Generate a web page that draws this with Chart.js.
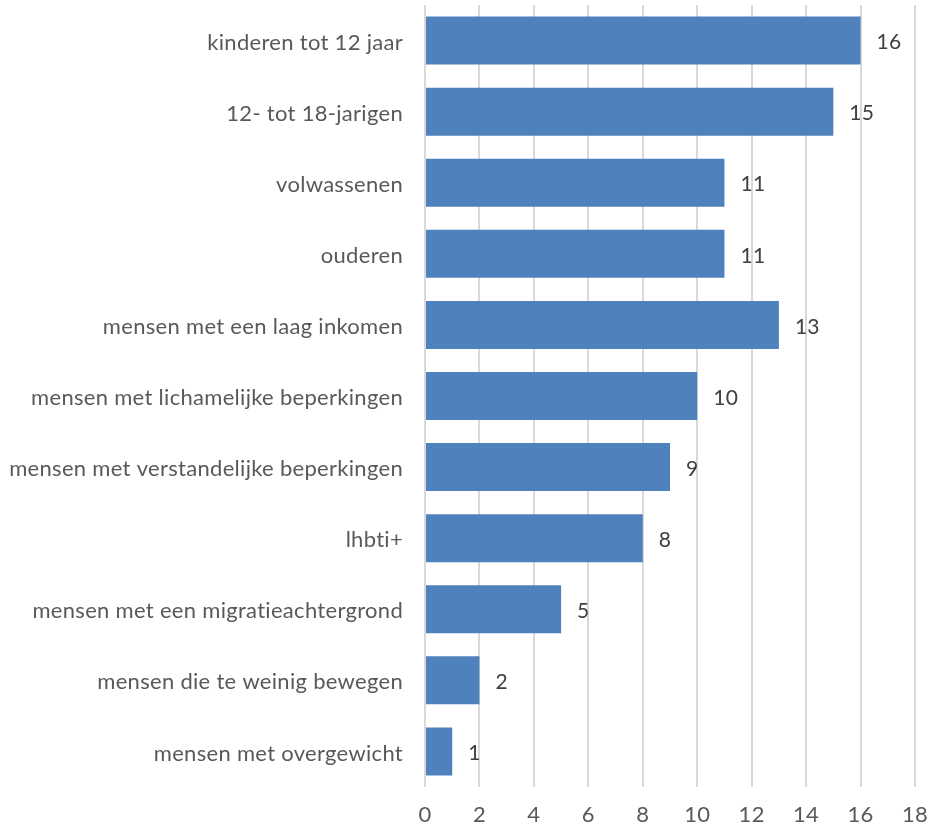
<!DOCTYPE html>
<html>
<head>
<meta charset="utf-8">
<script src="https://cdn.jsdelivr.net/npm/chart.js@4/dist/chart.umd.min.js"></script>
<style>
html,body{margin:0;padding:0;background:#fff;}
#wrap{width:931px;height:829px;position:relative;}
</style>
</head>
<body>
<div id="wrap"><canvas id="c" width="931" height="829"></canvas></div>
<script>
const categories = [
  "kinderen tot 12 jaar",
  "12- tot 18-jarigen",
  "volwassenen",
  "ouderen",
  "mensen met een laag inkomen",
  "mensen met lichamelijke beperkingen",
  "mensen met verstandelijke beperkingen",
  "lhbti+",
  "mensen met een migratieachtergrond",
  "mensen die te weinig bewegen",
  "mensen met overgewicht"
];
const values = [16, 15, 11, 11, 13, 10, 9, 8, 5, 2, 1];
const xTicks = [0, 2, 4, 6, 8, 10, 12, 14, 16, 18];

const FONT = "Lato, 'Open Sans', sans-serif";

const noLigatures = {
  id: 'noLigatures',
  beforeDraw(chart) {
    chart.ctx.letterSpacing = '0.3px';
  }
};

const valueLabels = {
  id: 'valueLabels',
  afterDatasetsDraw(chart) {
    const ctx = chart.ctx;
    const meta = chart.getDatasetMeta(0);
    ctx.save();
    ctx.font = "21px " + FONT;
    ctx.fillStyle = '#404040';
    ctx.textAlign = 'left';
    ctx.textBaseline = 'middle';
    meta.data.forEach((bar, i) => {
      ctx.fillText(String(values[i]), bar.x + 16, bar.y + 2);
    });
    ctx.restore();
  }
};

new Chart(document.getElementById('c'), {
  type: 'bar',
  data: {
    labels: categories,
    datasets: [{
      data: values,
      backgroundColor: '#4F81BD',
      borderWidth: 0,
      categoryPercentage: 1,
      barPercentage: 0.675
    }]
  },
  options: {
    indexAxis: 'y',
    responsive: false,
    animation: false,
    layout: { padding: { top: 5, right: 16, left: 0, bottom: 0 } },
    plugins: { legend: { display: false }, tooltip: { enabled: false } },
    scales: {
      x: {
        min: 0, max: 18,
        afterBuildTicks(scale) { scale.ticks = xTicks.map(v => ({ value: v })); },
        afterFit(scale) { scale.height = 42; scale.paddingLeft = 0; scale.paddingRight = 0; },
        grid: { color: '#D9D9D9', lineWidth: 2, drawTicks: false },
        border: { display: false },
        ticks: { color: '#595959', font: { family: FONT, size: 22 }, padding: 15 }
      },
      y: {
        afterFit(scale) { scale.width = 425; scale.paddingTop = 0; scale.paddingBottom = 0; },
        grid: { display: false, drawTicks: false },
        border: { display: false },
        ticks: { color: '#595959', font: { family: FONT, size: 22 }, padding: 22, labelOffset: 2 }
      }
    }
  },
  plugins: [noLigatures, valueLabels]
});
</script>
</body>
</html>
